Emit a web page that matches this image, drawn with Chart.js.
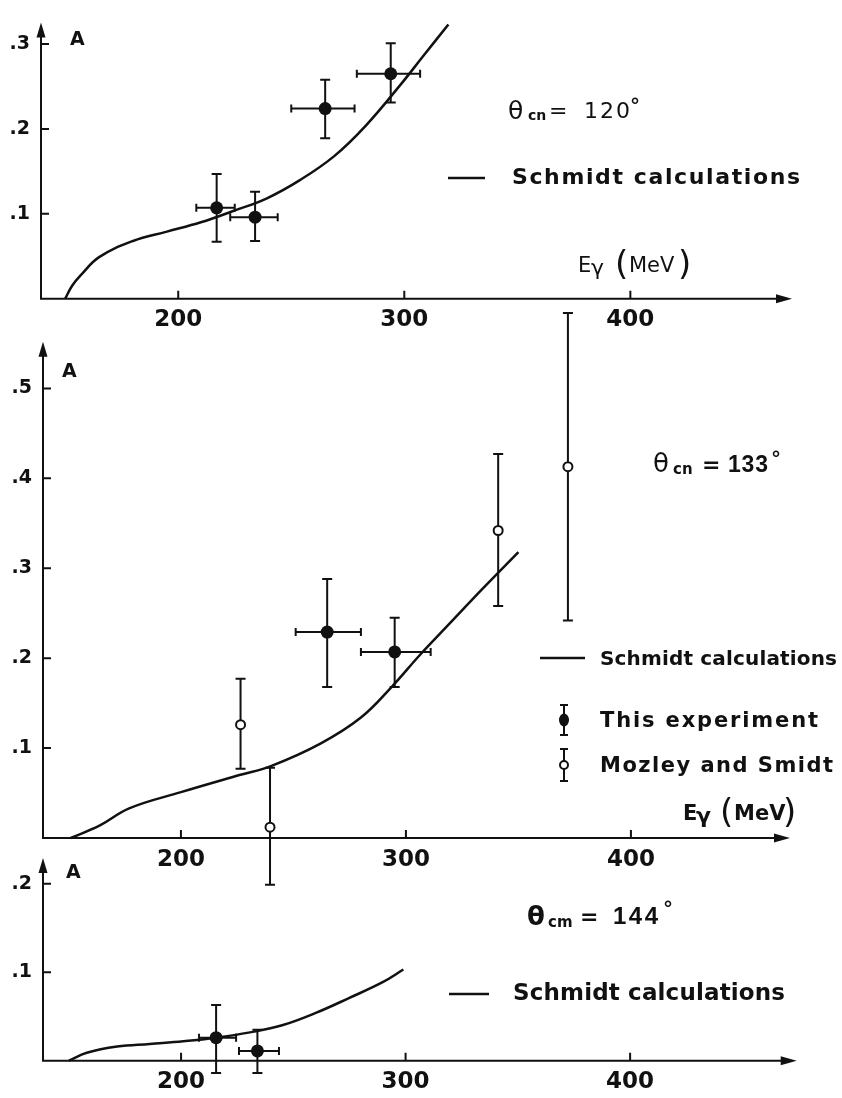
<!DOCTYPE html>
<html>
<head>
<meta charset="utf-8">
<script src="https://cdn.jsdelivr.net/npm/chart.js@4.4.1/dist/chart.umd.min.js"></script>
<style>
    html, body { margin: 0; background: #fff; }
    #page { position: relative; width: 842px; height: 1098px; }
    #page canvas { position: absolute; left: 0; top: 0; }
</style>
</head>
<body>
<div id="page">
    <canvas id="panel120" width="842" height="1098"></canvas>
    <canvas id="panel133" width="842" height="1098"></canvas>
    <canvas id="panel144" width="842" height="1098"></canvas>
</div>
<script>
const INK = "#111";
const FONT = '"DejaVu Sans", sans-serif';
const NUM_FONT = '"Liberation Sans", Arial, sans-serif';

// shared energy axis (MeV)
const energyTicks = [200, 300, 400];

// theta_cm = 120 deg
const a120Ticks = [0.1, 0.2, 0.3];
const curve120E = [150, 153, 157, 165, 180, 195, 210, 224, 239, 254, 269, 283, 298, 309, 319.5];
const curve120A = [0, 0.015, 0.028, 0.049, 0.068, 0.079, 0.090, 0.103, 0.118, 0.140, 0.168, 0.204, 0.251, 0.288, 0.323];
const exp120E = [217, 234, 265, 294];
const exp120A = [0.107, 0.096, 0.224, 0.265];
const exp120ALo = [0.067, 0.068, 0.189, 0.231];
const exp120AHi = [0.147, 0.126, 0.258, 0.301];
const exp120ELo = [208, 223, 250, 279];
const exp120EHi = [225, 244, 278, 307];

// theta_cm = 133 deg
const a133Ticks = [0.1, 0.2, 0.3, 0.4, 0.5];
const curve133E = [151, 164, 177, 200, 226, 240, 262, 280, 294, 306, 320, 334, 350];
const curve133A = [0, 0.014, 0.033, 0.051, 0.070, 0.080, 0.105, 0.134, 0.169, 0.203, 0.240, 0.277, 0.318];
const exp133E = [265, 295];
const exp133A = [0.229, 0.207];
const exp133ALo = [0.168, 0.168];
const exp133AHi = [0.288, 0.245];
const exp133ELo = [251, 280];
const exp133EHi = [280, 311];
const moz133E = [226.5, 239.6, 341, 372];
const moz133A = [0.126, 0.012, 0.342, 0.413];
const moz133ALo = [0.077, -0.052, 0.258, 0.242];
const moz133AHi = [0.177, 0.078, 0.427, 0.584];

// theta_cm = 144 deg
const a144Ticks = [0.1, 0.2];
const curve144E = [150, 158, 171.5, 186, 201, 215.6, 230.7, 245, 260, 275, 290, 299];
const curve144A = [0, 0.009, 0.016, 0.019, 0.022, 0.026, 0.032, 0.040, 0.054, 0.071, 0.089, 0.103];
const exp144E = [215.6, 234];
const exp144A = [0.026, 0.011];
const exp144ALo = [-0.014, -0.014];
const exp144AHi = [0.063, 0.035];
const exp144ELo = [208, 225.8];
const exp144EHi = [224.5, 243.6];

const pts = (xs, ys) => xs.map((x, i) => ({ x, y: ys[i] }));
const pairs = (lo, hi) => lo.map((v, i) => [v, hi[i]]);
const R = (size) => `${size}px ${FONT}`;
const B = (size) => `bold ${size}px ${FONT}`;
const N = (size) => `bold ${size}px ${NUM_FONT}`;

const X_AXIS_BOX = 34;

function curveSet(xs, ys) {
    return {
        data: pts(xs, ys),
        showLine: true,
        borderColor: INK,
        borderWidth: 2.5,
        pointRadius: 0,
        tension: 0.4,
        clip: false,
    };
}

function markerSet(xs, ys, open, errA, errE) {
    return {
        data: pts(xs, ys),
        pointRadius: open ? 4.5 : 6.5,
        pointBackgroundColor: open ? "#fff" : INK,
        pointBorderColor: INK,
        pointBorderWidth: open ? 2 : 0,
        clip: false,
        errA,
        errE,
    };
}

// axis lines with arrowheads and inward tick marks
const arrowAxes = {
    id: "arrowAxes",
    beforeDatasetsDraw(chart) {
        const { ctx, chartArea: a, scales } = chart;
        ctx.save();
        ctx.strokeStyle = INK;
        ctx.fillStyle = INK;
        ctx.lineWidth = 2;
        ctx.beginPath();
        ctx.moveTo(a.left, a.top + 12);
        ctx.lineTo(a.left, a.bottom);
        ctx.lineTo(a.right - 12, a.bottom);
        ctx.stroke();

        ctx.beginPath();
        ctx.moveTo(a.left, a.top);
        ctx.lineTo(a.left - 4.5, a.top + 15);
        ctx.lineTo(a.left + 4.5, a.top + 15);
        ctx.closePath();
        ctx.fill();
        ctx.beginPath();
        ctx.moveTo(a.right, a.bottom);
        ctx.lineTo(a.right - 16, a.bottom - 4.5);
        ctx.lineTo(a.right - 16, a.bottom + 4.5);
        ctx.closePath();
        ctx.fill();

        ctx.beginPath();
        scales.y.ticks.forEach((t) => {
            const py = scales.y.getPixelForValue(t.value);
            ctx.moveTo(a.left, py);
            ctx.lineTo(a.left + 8, py);
        });
        scales.x.ticks.forEach((t) => {
            const px = scales.x.getPixelForValue(t.value);
            ctx.moveTo(px, a.bottom);
            ctx.lineTo(px, a.bottom - 8);
        });
        ctx.stroke();
        ctx.restore();
    },
};

// error bars taken from dataset.errA / dataset.errE
const errorBars = {
    id: "errorBars",
    beforeDatasetDraw(chart, args) {
        const ds = chart.data.datasets[args.index];
        if (!ds.errA) {
            return;
        }
        const { ctx, scales: { x, y } } = chart;
        ctx.save();
        ctx.strokeStyle = INK;
        ctx.lineWidth = 2;
        ctx.beginPath();
        ds.data.forEach((p, i) => {
            const px = x.getPixelForValue(p.x);
            const py = y.getPixelForValue(p.y);
            const yLo = y.getPixelForValue(ds.errA[i][0]);
            const yHi = y.getPixelForValue(ds.errA[i][1]);
            ctx.moveTo(px, yLo);
            ctx.lineTo(px, yHi);
            ctx.moveTo(px - 5, yLo);
            ctx.lineTo(px + 5, yLo);
            ctx.moveTo(px - 5, yHi);
            ctx.lineTo(px + 5, yHi);
            if (ds.errE) {
                const xLo = x.getPixelForValue(ds.errE[i][0]);
                const xHi = x.getPixelForValue(ds.errE[i][1]);
                ctx.moveTo(xLo, py);
                ctx.lineTo(xHi, py);
                ctx.moveTo(xLo, py - 4);
                ctx.lineTo(xLo, py + 4);
                ctx.moveTo(xHi, py - 4);
                ctx.lineTo(xHi, py + 4);
            }
        });
        ctx.stroke();
        ctx.restore();
    },
};

function drawText(ctx, item) {
    ctx.font = item.font;
    ctx.fillStyle = INK;
    ctx.textAlign = "left";
    ctx.textBaseline = "alphabetic";
    if (item.w && item.t.length > 1) {
        if ("letterSpacing" in ctx) {
            ctx.letterSpacing = "0px";
        }
        const natural = ctx.measureText(item.t).width;
        const gap = (item.w - natural) / (item.t.length - 1);
        if ("letterSpacing" in ctx) {
            ctx.letterSpacing = `${gap}px`;
            ctx.fillText(item.t, item.x, item.y);
            ctx.letterSpacing = "0px";
            return;
        }
        let cx = item.x;
        for (const ch of item.t) {
            ctx.fillText(ch, cx, item.y);
            cx += ctx.measureText(ch).width + gap;
        }
        return;
    }
    ctx.fillText(item.t, item.x, item.y);
}

function notesPlugin(items) {
    return {
        id: "notes",
        afterDraw(chart) {
            const ctx = chart.ctx;
            ctx.save();
            ctx.strokeStyle = INK;
            ctx.fillStyle = INK;
            items.forEach((item) => {
                if (item.line) {
                    const [x0, x1, yy] = item.line;
                    ctx.lineWidth = 2.5;
                    ctx.beginPath();
                    ctx.moveTo(x0, yy);
                    ctx.lineTo(x1, yy);
                    ctx.stroke();
                } else if (item.bar) {
                    const [bx, top, bottom, my, kind] = item.bar;
                    ctx.lineWidth = 2;
                    ctx.beginPath();
                    ctx.moveTo(bx, top);
                    ctx.lineTo(bx, bottom);
                    ctx.moveTo(bx - 4, top);
                    ctx.lineTo(bx + 4, top);
                    ctx.moveTo(bx - 4, bottom);
                    ctx.lineTo(bx + 4, bottom);
                    ctx.stroke();
                    ctx.beginPath();
                    if (kind === "open") {
                        ctx.arc(bx, my, 4, 0, Math.PI * 2);
                        ctx.fillStyle = "#fff";
                        ctx.fill();
                        ctx.stroke();
                        ctx.fillStyle = INK;
                    } else {
                        ctx.ellipse(bx, my, 5, 6.5, 0, 0, Math.PI * 2);
                        ctx.fill();
                    }
                } else {
                    drawText(ctx, item);
                }
            });
            ctx.restore();
        },
    };
}

function xScale(min, max) {
    return {
        type: "linear",
        position: "bottom",
        min,
        max,
        grid: { display: false, drawTicks: false },
        border: { display: false },
        ticks: {
            autoSkip: false,
            maxRotation: 0,
            padding: 8,
            color: INK,
            font: { family: FONT, size: 23, weight: "bold" },
            callback: (v) => String(v),
        },
        afterBuildTicks: (s) => { s.ticks = energyTicks.map((v) => ({ value: v })); },
        afterFit: (s) => { s.height = X_AXIS_BOX; },
    };
}

function yScale(max, tickValues, axisX) {
    return {
        type: "linear",
        position: "left",
        min: 0,
        max,
        grid: { display: false, drawTicks: false },
        border: { display: false },
        ticks: {
            autoSkip: false,
            padding: 11,
            color: INK,
            font: { family: FONT, size: 19, weight: "bold" },
            callback: (v) => String(v).replace(/^0\./, "."),
        },
        afterBuildTicks: (s) => { s.ticks = tickValues.map((v) => ({ value: v })); },
        afterFit: (s) => { s.width = axisX; },
    };
}

// geom: axisX = pixel of the A axis, axisY = pixel of the energy axis,
// top = arrow tip of A axis, right = arrow tip of energy axis
function buildPanel(id, geom, aTicks, datasets, notes) {
    return new Chart(document.getElementById(id), {
        type: "scatter",
        data: { datasets },
        options: {
            responsive: false,
            animation: false,
            devicePixelRatio: 1,
            events: [],
            layout: {
                autoPadding: false,
                padding: {
                    left: 0,
                    top: geom.top,
                    right: 842 - geom.right,
                    bottom: 1098 - geom.axisY - X_AXIS_BOX,
                },
            },
            plugins: { legend: { display: false }, tooltip: { enabled: false } },
            scales: {
                x: xScale(geom.eMin, geom.eMax),
                y: yScale(geom.aMax, aTicks, geom.axisX),
            },
        },
        plugins: [arrowAxes, errorBars, notesPlugin(notes)],
    });
}

const energyLabel = (x, y, font) => [
    { t: "E", x, y, font: font(21) },
    { t: "γ", x: x + 13, y: y + 3, font: font(22) },
    { t: "(", x: x + 37, y: y + 3, font: R(34) },
    { t: "MeV", x: x + 51, y, font: font(21) },
    { t: ")", x: x + 100, y: y + 3, font: R(34) },
];

buildPanel(
    "panel120",
    { axisX: 41, axisY: 298.7, top: 8, right: 792, eMin: 139.3, eMax: 471.5, aMax: 0.3255 },
    a120Ticks,
    [
        markerSet(exp120E, exp120A, false, pairs(exp120ALo, exp120AHi), pairs(exp120ELo, exp120EHi)),
        curveSet(curve120E, curve120A),
    ],
    [
        { t: "A", x: 70, y: 45, font: B(19) },
        { t: "θ", x: 508, y: 119, font: R(25) },
        { t: "cn", x: 528, y: 120, font: B(14) },
        { t: "=", x: 549, y: 118, font: R(22) },
        { t: "120", x: 584, y: 118, font: R(22), w: 46 },
        { t: "°", x: 630, y: 112, font: B(20) },
        { line: [448, 485, 178] },
        { t: "Schmidt calculations", x: 512, y: 184, font: B(22), w: 288 },
        ...energyLabel(578, 272, R),
    ]
);

buildPanel(
    "panel133",
    { axisX: 43, axisY: 838, top: 341.7, right: 790, eMin: 138.7, eMax: 470.7, aMax: 0.552 },
    a133Ticks,
    [
        markerSet(exp133E, exp133A, false, pairs(exp133ALo, exp133AHi), pairs(exp133ELo, exp133EHi)),
        markerSet(moz133E, moz133A, true, pairs(moz133ALo, moz133AHi), null),
        curveSet(curve133E, curve133A),
    ],
    [
        { t: "A", x: 62, y: 377, font: B(19) },
        { t: "θ", x: 653, y: 472, font: R(26) },
        { t: "cn", x: 673, y: 474, font: B(15) },
        { t: "=", x: 702, y: 472, font: B(22) },
        { t: "133", x: 728, y: 472, font: N(23), w: 40 },
        { t: "°", x: 771, y: 465, font: B(20) },
        { line: [540, 585, 658] },
        { t: "Schmidt calculations", x: 600, y: 665, font: B(20), w: 237 },
        { bar: [564, 705, 735, 720, "filled"] },
        { t: "This experiment", x: 600, y: 727, font: B(21), w: 218 },
        { bar: [564, 749, 781, 765, "open"] },
        { t: "Mozley and Smidt", x: 600, y: 772, font: B(21), w: 233 },
        ...energyLabel(683, 820, B),
    ]
);

buildPanel(
    "panel144",
    { axisX: 43, axisY: 1060.7, top: 858, right: 796.7, eMin: 138.5, eMax: 474.2, aMax: 0.229 },
    a144Ticks,
    [
        markerSet(exp144E, exp144A, false, pairs(exp144ALo, exp144AHi), pairs(exp144ELo, exp144EHi)),
        curveSet(curve144E, curve144A),
    ],
    [
        { t: "A", x: 66, y: 878, font: B(19) },
        { t: "θ", x: 527, y: 925, font: B(26) },
        { t: "cm", x: 548, y: 927, font: B(15) },
        { t: "=", x: 580, y: 924, font: B(22) },
        { t: "144", x: 613, y: 924, font: N(24), w: 45 },
        { t: "°", x: 663, y: 915, font: B(20) },
        { line: [449, 489, 994] },
        { t: "Schmidt calculations", x: 513, y: 1000, font: B(23), w: 272 },
    ]
);
</script>
</body>
</html>
